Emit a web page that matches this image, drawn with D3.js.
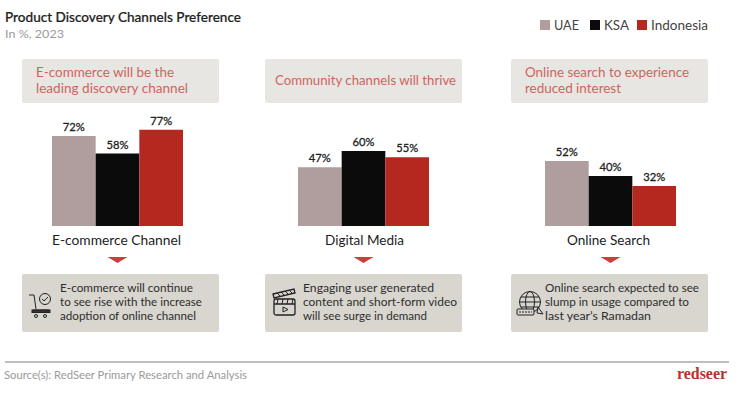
<!DOCTYPE html>
<html><head><meta charset="utf-8">
<script src="https://cdnjs.cloudflare.com/ajax/libs/d3/7.8.5/d3.min.js"></script>
<style>html,body{margin:0;padding:0;background:#fff}svg{display:block;font-family:Lato,sans-serif}</style>
</head><body><svg id="c" width="739" height="395"></svg>
<script>
const channels = ["E-commerce Channel","Digital Media","Online Search"];
const countries = ["UAE","KSA","Indonesia"];
const uaeValues = [72,47,52];
const ksaValues = [58,60,40];
const indonesiaValues = [77,55,32];
const colors = ["#b09d9d","#0b0b0b","#b5281f"];
const headlines = [["E-commerce will be the","leading discovery channel"],["Community channels will thrive"],["Online search to experience","reduced interest"]];
const notes = [["E-commerce will continue","to see rise with the increase","adoption of online channel"],["Engaging user generated","content and short-form video","will see surge in demand"],["Online search expected to see","slump in usage compared to","last year\u2019s Ramadan"]];
const title = "Product Discovery Channels Preference", subtitle = "In %, 2023", source = "Source(s): RedSeer Primary Research and Analysis", logo = "redseer";

const svg = d3.select("#c");
const series = [uaeValues,ksaValues,indonesiaValues];
const y = d3.scaleLinear().domain([0,100]).range([226,101]);
const groupLeft = [52,298,545], groupW = 131;
const boxLeft = [22,265,511], boxW = 197;
const x = d3.scaleBand().domain(countries).range([0,groupW]).padding(0);

// measured text extents
const headX=[36,275,525], headLen=[[138,152],[181],[164,96]];
const noteX=[60,303,545], noteLen=[[133,142,136],[131,154,124],[154,144,106]];
const catX=[52,325,567], catLen=[129,79,83];

const text = (t,px,py,size,fill,anchor,weight,len)=>{const e=svg.append("text").attr("x",px).attr("y",py).attr("font-size",size).attr("fill",fill).attr("text-anchor",anchor||"start").attr("font-weight",weight||400).text(t);
  if(len)e.attr("textLength",len).attr("lengthAdjust","spacingAndGlyphs");return e;};

text(title,5,22,12.5,"#222","start",500,236).attr("stroke","#222").attr("stroke-width",0.2);
text(subtitle,5,38,12,"#9a9a9a","start",400,59);

// legend
const legendX=[540,590,637], legendTextW=[25,25,57];
countries.forEach((c,i)=>{
  svg.append("rect").attr("x",legendX[i]).attr("y",20).attr("width",10).attr("height",10).attr("fill",colors[i]);
  text(c,legendX[i]+14,30,13,"#444","start",400,legendTextW[i]);
});

channels.forEach((ch,g)=>{
  const bl=boxLeft[g];
  svg.append("rect").attr("x",bl).attr("y",59).attr("width",boxW).attr("height",44).attr("rx",2).attr("fill","#e8e6e3");
  const hl=headlines[g];
  hl.forEach((l,i)=>text(l,headX[g],hl.length==1?85:(77+i*16),13,"#d0635c","start",400,headLen[g][i]));

  const G=svg.append("g").attr("transform",`translate(${groupLeft[g]},0)`);
  countries.forEach((c,s)=>{
    const v=series[s][g];
    G.append("rect").attr("x",x(c)).attr("y",y(v)).attr("width",x.bandwidth()).attr("height",y(0)-y(v)).attr("fill",colors[s]);
    G.append("text").attr("x",x(c)+x.bandwidth()/2).attr("y",y(v)-5).attr("text-anchor","middle").attr("font-size",12).attr("fill","#222").attr("stroke","#222").attr("stroke-width",0.3).attr("textLength",22).attr("lengthAdjust","spacingAndGlyphs").text(v+"%");
  });
  text(ch,catX[g],245,13,"#1c1c1c","start",400,catLen[g]);
  const cx=groupLeft[g]+groupW/2;
  svg.append("path").attr("d",d3.line()([[cx-10,257],[cx+10,257],[cx,263]])).attr("fill","#c9403a");
  svg.append("rect").attr("x",bl).attr("y",274).attr("width",boxW).attr("height",58).attr("rx",2).attr("fill","#d8d6cf");
  notes[g].forEach((l,i)=>text(l,noteX[g],292+i*14,12,"#2e2e2e","start",400,noteLen[g][i]));
  const ic=svg.append("g").attr("fill","none").attr("stroke","#222").attr("stroke-width",1);
  if(g==0){
    ic.attr("transform",`translate(29,293)`);
    ic.append("path").attr("d","M0 2H5L7 16M4 17H20").attr("stroke-width",1);
    ic.append("rect").attr("x",3).attr("y",17).attr("width",18).attr("height",2.5).attr("fill","#333");
    ic.append("circle").attr("cx",16).attr("cy",6).attr("r",5.5);
    ic.append("path").attr("d","M13 6l2 2l4-4");
    ic.append("circle").attr("cx",7).attr("cy",23).attr("r",1.5);
    ic.append("circle").attr("cx",16).attr("cy",23).attr("r",1.5);
  } else if(g==1){
    ic.attr("transform",`translate(273,288)`);
    ic.append("rect").attr("x",1).attr("y",11).attr("width",21).attr("height",16).attr("rx",2).attr("stroke-width",1.3);
    ic.append("path").attr("d","M0 6L21 1L22 5L1 10ZM1 16H22").attr("stroke-width",1.3);
    ic.append("path").attr("d","M4 5L7 8M8 4L11 7M12 3L15 6M16 2L19 5M5 11L4 16M10 11L9 16M15 11L14 16M20 11L19 16");
    ic.append("path").attr("d","M10 19L15 21.5L10 24Z");
  } else {
    ic.attr("transform",`translate(518,291)`);
    ic.append("circle").attr("cx",12).attr("cy",11).attr("r",10.5);
    ic.append("ellipse").attr("cx",12).attr("cy",11).attr("rx",4.5).attr("ry",10.5);
    ic.append("path").attr("d","M1.5 11H22.5M3 6H21M3 16H21");
    ic.append("rect").attr("x",-1).attr("y",18).attr("width",17).attr("height",6).attr("rx",1).attr("fill","#d8d6cf");
    ic.append("path").attr("d","M1 21H14").attr("stroke-dasharray","2 1");
    ic.append("path").attr("d","M20 16L25 23L19 22Z");
  }
});

svg.append("line").attr("x1",5).attr("x2",729).attr("y1",362).attr("y2",362).attr("stroke","#a8a8a8").attr("stroke-width",1.5);
text(source,4,379,10.5,"#9a9a9a","start",400,243);
svg.append("text").attr("x",677).attr("y",379).attr("font-family","'Liberation Serif',serif").attr("font-weight",700).attr("font-size",16).attr("fill","#b5332c").attr("textLength",50).attr("lengthAdjust","spacingAndGlyphs").text(logo);
</script></body></html>
